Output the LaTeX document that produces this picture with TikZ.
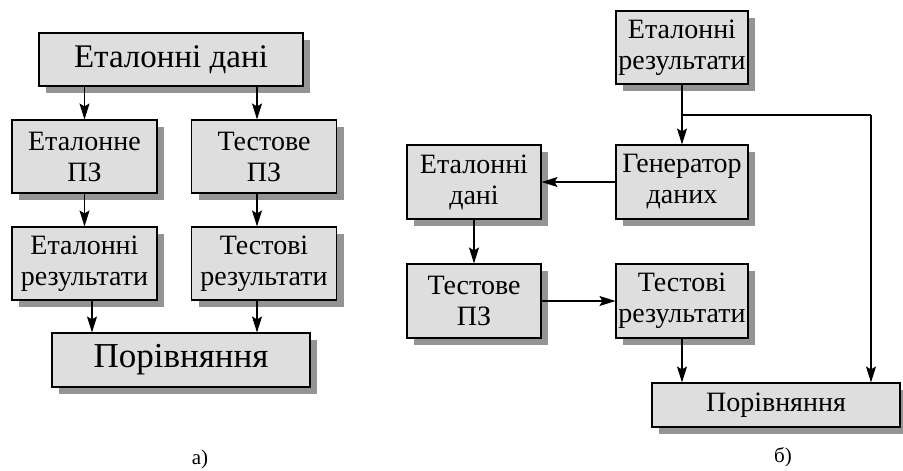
\documentclass[tikz,border=0pt]{standalone}
\usepackage{fontspec}
\setmainfont{Liberation Serif}
\usepackage{tikz}
\usetikzlibrary{arrows.meta,shadows,positioning}

\tikzset{
  blk/.style={draw, line width=1.1pt, fill=black!13, align=center,
    inner sep=0pt, minimum width=145pt, minimum height=73pt,
    drop shadow={shadow xshift=7pt, shadow yshift=-7pt, fill=black!42, opacity=1},
    font=\fontsize{28}{31}\selectfont},
  conn/.style={line width=1.1pt},
  arr/.style={conn, -{Stealth[length=16pt, width=10pt, inset=3pt]}},
}

\begin{document}
\begin{tikzpicture}[x=1pt, y=-1pt]
  \useasboundingbox (0,0) rectangle (903,471);
  % Define nodes (a)
  \node[blk, minimum width=264pt, minimum height=53pt,
        font=\fontsize{33}{38}\selectfont] (ed) at (171,59.5) {Еталонні дані};
  \node[blk] (ep) at (84.5,156.5) {Еталонне\\ПЗ};
  \node[blk] (tp) at (264,156.5) {Тестове\\ПЗ};
  \node[blk] (er) at (84.5,263.5) {Еталонні\\результати};
  \node[blk] (tr) at (264,263.5) {Тестові\\результати};
  \node[blk, minimum width=258pt, minimum height=54pt,
        font=\fontsize{35}{40}\selectfont] (cmp) at (181,360) {Порівняння};
  \node[font=\fontsize{21}{24}\selectfont] (lblA) at (200,459) {а)};
  % Connect nodes (a)
  \draw[arr] (ed.south -| ep.north) -- (ep.north);
  \draw[arr] ([xshift=-7pt]tp.north |- ed.south) -- ([xshift=-7pt]tp.north);
  \draw[arr] (ep) -- (er);
  \draw[arr] ([xshift=-7pt]tp.south) -- ([xshift=-7pt]tr.north);
  \draw[arr] ([xshift=7.5pt]er.south) -- ([xshift=7.5pt]er.south |- cmp.north);
  \draw[arr] ([xshift=-7pt]tr.south) -- ([xshift=-7pt]tr.south |- cmp.north);

  % Define nodes (b)
  \node[blk, minimum width=132pt] (er2) at (682,47.5) {Еталонні\\результати};
  \node[blk, minimum width=132pt, minimum height=74pt] (gen) at (682,182) {Генератор\\даних};
  \node[blk, minimum width=134pt, minimum height=74pt] (ed2) at (474,182) {Еталонні\\дані};
  \node[blk, minimum width=134pt, minimum height=74pt] (tp2) at (474,301) {Тестове\\ПЗ};
  \node[blk, minimum width=132pt, minimum height=74pt] (tr2) at (682,301) {Тестові\\результати};
  \node[blk, minimum width=248pt, minimum height=44pt] (cmp2) at (776,405) {Порівняння};
  \node[font=\fontsize{21}{24}\selectfont] (lblB) at (783,457) {б)};
  \coordinate (jn) at (682,115);
  \coordinate (rt) at (871,115);
  % Connect nodes (b)
  \draw[arr] (er2) -- (gen);
  \draw[conn] (jn) -- (rt);
  \draw[arr] (rt) -- (rt |- cmp2.north);
  \draw[arr] (gen) -- (ed2);
  \draw[arr] (ed2) -- (tp2);
  \draw[arr] (tp2) -- (tr2);
  \draw[arr] (tr2.south) -- (tr2.south |- cmp2.north);
\end{tikzpicture}
\end{document}
